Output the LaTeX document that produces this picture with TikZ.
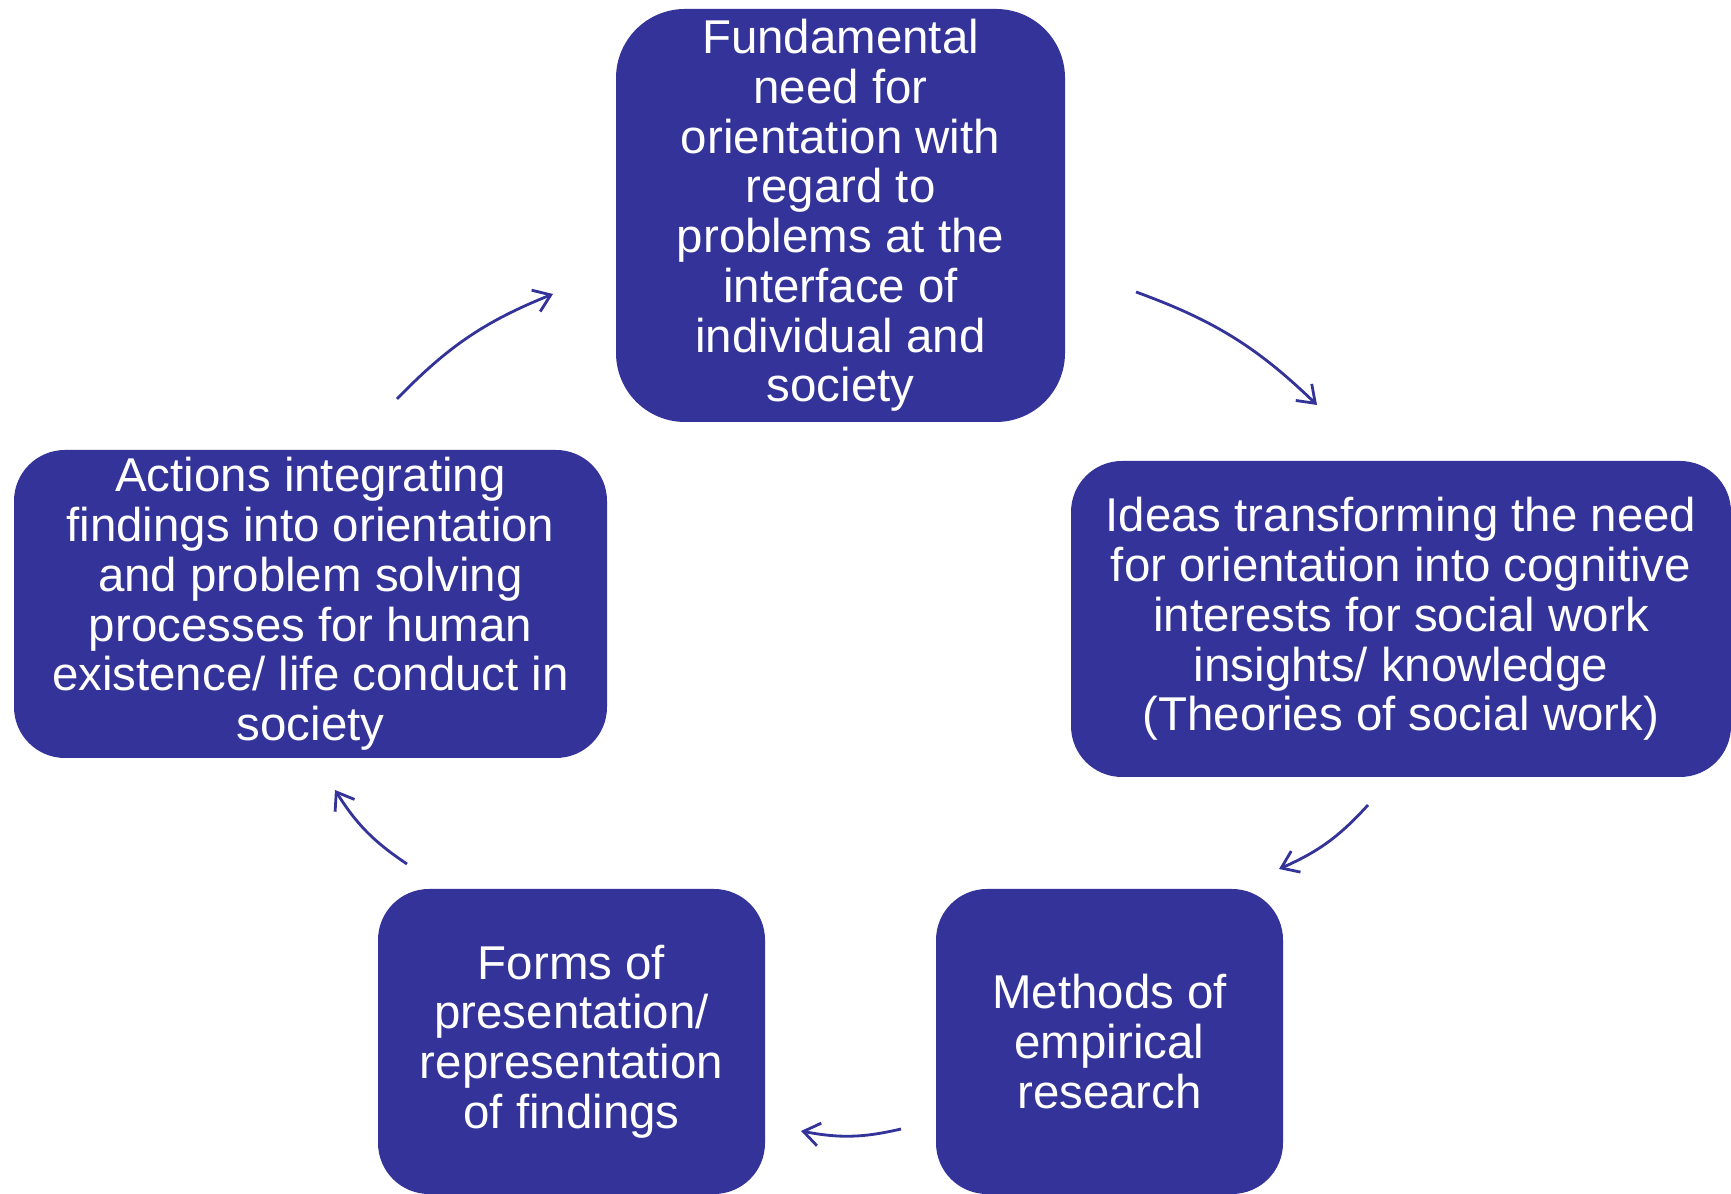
\documentclass[tikz,border=0pt]{standalone}
\usepackage{fontspec}
\setmainfont{Liberation Sans}
\usepackage{tikz}
\usetikzlibrary{arrows.meta}
\definecolor{cycleblue}{RGB}{51,51,153}

\begin{document}
\begin{tikzpicture}[
    box/.style={rectangle, fill=cycleblue, text=white, rounded corners=1.02cm, inner sep=0pt, align=center, font=\fontsize{27}{28.3}\selectfont},
    arrow/.style={-{Straight Barb[length=3.2mm,width=4.6mm]}, draw=cycleblue, line width=1.6pt, bend left=12}
]
    \useasboundingbox (0,0) rectangle (34.62,23.88);

    \node[box, rounded corners=1.38cm, minimum width=8.98cm, minimum height=8.26cm] (need) at (16.81,19.57)
        {Fundamental\\need for\\orientation with\\regard to\\problems at the\\interface of\\individual and\\society};
    \node[box, minimum width=13.2cm, minimum height=6.32cm] (ideas) at (28.02,11.50)
        {Ideas transforming the need\\for orientation into cognitive\\interests for social work\\insights/ knowledge\\(Theories of social work)};
    \node[box, minimum width=6.94cm, minimum height=6.1cm] (methods) at (22.19,3.05)
        {Methods of\\empirical\\research};
    \node[box, minimum width=7.74cm, minimum height=6.1cm] (forms) at (11.43,3.05)
        {Forms of\\presentation/\\representation\\of findings};
    \node[box, minimum width=11.86cm, minimum height=6.16cm] (actions) at (6.21,11.80)
        {Actions integrating\\findings into orientation\\and problem solving\\processes for human\\existence/ life conduct in\\society};

    % arrow ends between the boxes
    \coordinate (needout) at (22.72,18.04);
    \coordinate (ideasin) at (26.34,15.78);
    \coordinate (ideasout) at (27.36,7.78);
    \coordinate (methodsin) at (25.58,6.50);
    \coordinate (methodsout) at (18.02,1.30);
    \coordinate (formsin) at (16.02,1.26);
    \coordinate (formsout) at (8.14,6.60);
    \coordinate (actionsin) at (6.70,8.08);
    \coordinate (actionsout) at (7.94,15.90);
    \coordinate (needin) at (11.06,18.00);

    \draw[arrow] (needout) to (ideasin);
    \draw[arrow] (ideasout) to (methodsin);
    \draw[arrow] (methodsout) to (formsin);
    \draw[arrow] (formsout) to (actionsin);
    \draw[arrow] (actionsout) to (needin);
\end{tikzpicture}
\end{document}
